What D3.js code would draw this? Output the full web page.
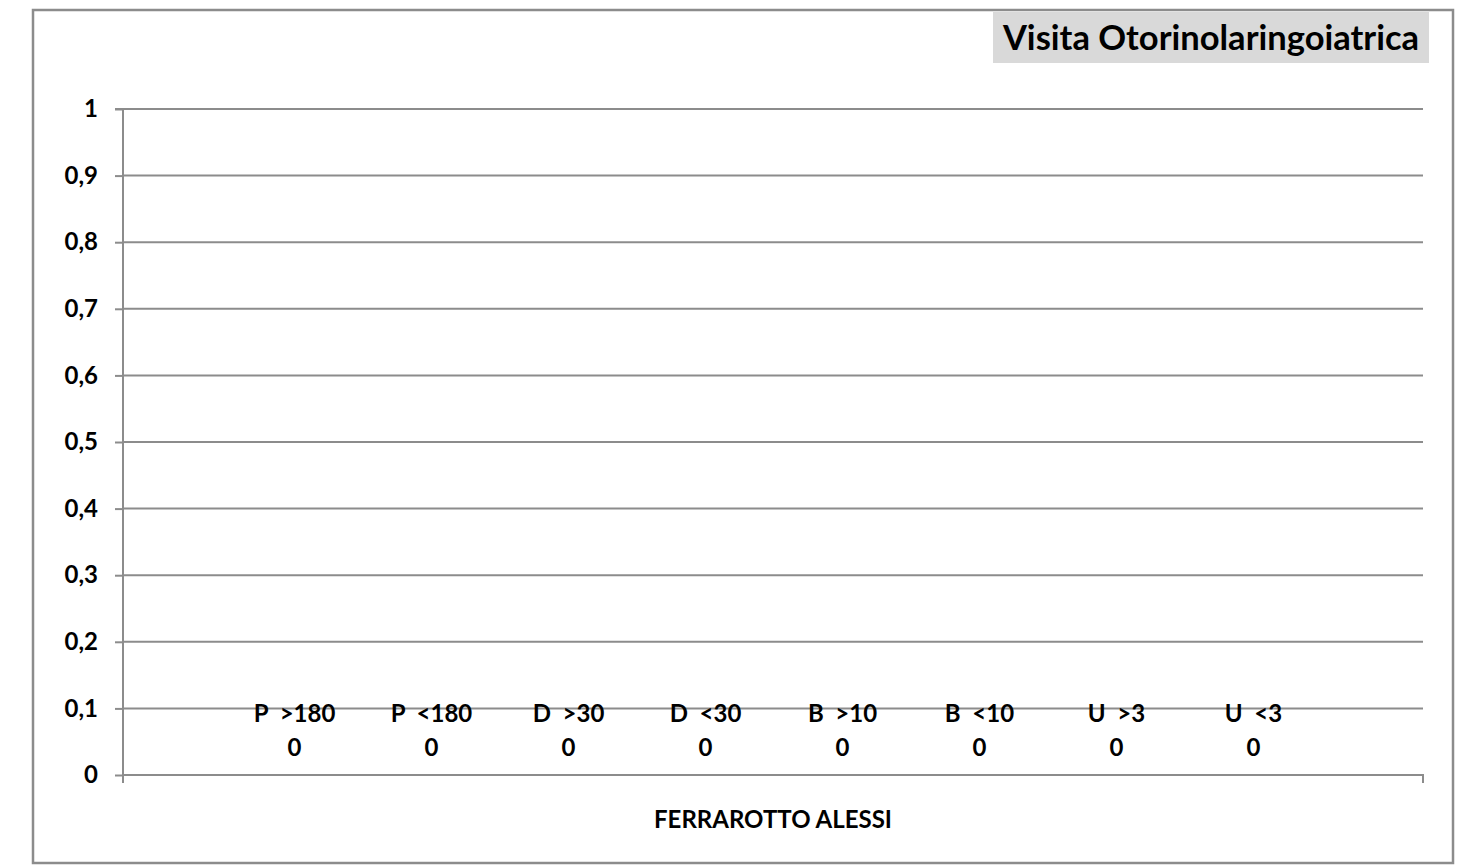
<!DOCTYPE html>
<html><head><meta charset="utf-8">
<script src="https://cdn.jsdelivr.net/npm/d3@7"></script>
<style>html,body{margin:0;padding:0;background:#fff;}svg{display:block;}</style>
</head><body>
<script>
const title = "Visita Otorinolaringoiatrica";
const categories = ["FERRAROTTO ALESSI"];
const series = ["P  >180", "P  <180", "D  >30", "D  <30", "B  >10", "B  <10", "U  >3", "U  <3"];
const values = [0, 0, 0, 0, 0, 0, 0, 0];
const yTicks = [0, 0.1, 0.2, 0.3, 0.4, 0.5, 0.6, 0.7, 0.8, 0.9, 1];

const W = 1468, H = 866;
const font = "Lato, 'Open Sans', sans-serif";
const svg = d3.select("body").append("svg").attr("width", W).attr("height", H);

// outer chart border
svg.append("rect").attr("x", 33).attr("y", 10).attr("width", 1420).attr("height", 853)
  .attr("fill", "#fff").attr("stroke", "#8c8c8c").attr("stroke-width", 2.5);

const L = 123, R = 1423, T = 109, B = 775;
const y = d3.scaleLinear().domain([0, 1]).range([B, T]);
const x0 = d3.scaleBand().domain(categories).range([L, R]).paddingInner(0).paddingOuter(0);
const x1 = d3.scaleBand().domain(series).range([0, x0.bandwidth()]).paddingOuter(0.745).paddingInner(0);

// gridlines
svg.append("g").selectAll("line").data(yTicks.filter(d => d > 0)).join("line")
  .attr("x1", L).attr("x2", R).attr("y1", d => y(d)).attr("y2", d => y(d))
  .attr("stroke", "#8c8c8c").attr("stroke-width", 2);

// y axis
const yAxis = d3.axisLeft(y).tickValues(yTicks).tickSize(8).tickPadding(17)
  .tickFormat(d => d3.format("~g")(d).replace(".", ","));
const gy = svg.append("g").attr("transform", `translate(${L},0)`).call(yAxis);
gy.select(".domain").attr("stroke", "#8c8c8c").attr("stroke-width", 2).attr("d", `M-8,${T}H0V${B + 8}`);
gy.selectAll(".tick line").attr("stroke", "#8c8c8c").attr("stroke-width", 2);
gy.selectAll(".tick text").attr("font-family", font).attr("font-weight", "bold")
  .attr("font-size", 24).attr("fill", "#000");

// x axis
const gx = svg.append("g").attr("transform", `translate(0,${B})`)
  .call(d3.axisBottom(x0).tickSize(0).tickFormat(""));
gx.select(".domain").attr("stroke", "#8c8c8c").attr("stroke-width", 2)
  .attr("d", `M${L},8V0H${R}V8`);

// bars (zero height) and data labels
const grp = svg.append("g").selectAll("g").data(categories).join("g")
  .attr("transform", d => `translate(${x0(d)},0)`);
const items = series.map((s, i) => ({ s, v: values[i] }));
grp.selectAll("rect").data(items).join("rect")
  .attr("x", d => x1(d.s)).attr("width", x1.bandwidth())
  .attr("y", d => y(d.v)).attr("height", d => B - y(d.v)).attr("fill", "#4f81bd");
const lbl = grp.selectAll("text").data(items).join("text")
  .attr("text-anchor", "middle").attr("font-family", font).attr("font-weight", "bold")
  .attr("font-size", 24).attr("fill", "#000").style("white-space", "pre");
lbl.append("tspan").attr("x", d => x1(d.s) + x1.bandwidth() / 2 + 1).attr("y", d => y(d.v) - 53).text(d => d.s);
lbl.append("tspan").attr("x", d => x1(d.s) + x1.bandwidth() / 2 + 1).attr("y", d => y(d.v) - 19).text(d => d.v);

// x axis title
svg.append("text").attr("x", (L + R) / 2).attr("y", 828).attr("text-anchor", "middle")
  .attr("font-family", font).attr("font-weight", "bold").attr("font-size", 24).text(categories[0]);

// title box
svg.append("rect").attr("x", 993).attr("y", 12).attr("width", 436).attr("height", 51).attr("fill", "#d9d9d9");
svg.append("text").attr("x", 1211).attr("y", 50).attr("text-anchor", "middle")
  .attr("font-family", font).attr("font-weight", "bold").attr("font-size", 34.5).attr("fill", "#000")
  .text(title);
</script>
</body></html>
